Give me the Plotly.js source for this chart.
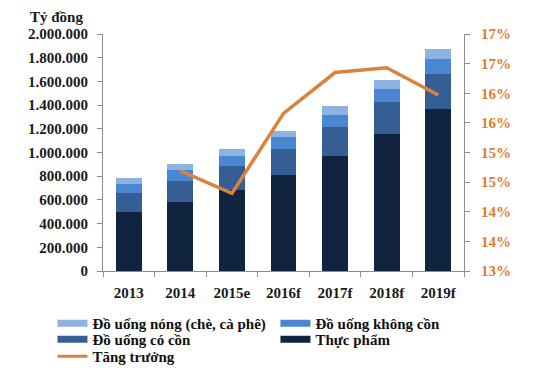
<!DOCTYPE html>
<html>
<head>
<meta charset="utf-8">
<script src="https://cdn.plot.ly/plotly-3.0.1.min.js"></script>
<style>html,body{margin:0;padding:0;background:#fff;}#chart{width:533px;height:373px;}</style>
</head>
<body>
<div id="chart"></div>
<script>
const years = ['2013', '2014', '2015e', '2016f', '2017f', '2018f', '2019f'];
const thucPham = [500000, 585000, 684000, 813000, 973000, 1156000, 1367000];
const doUongCoCon = [158000, 177000, 205000, 219000, 245000, 273000, 298000];
const doUongKhongCon = [76000, 90000, 81000, 99000, 98000, 107000, 124000];
const doUongNong = [48000, 48000, 57000, 53000, 76000, 73000, 82000];
const growthYears = ['2014', '2015e', '2016f', '2017f', '2018f', '2019f'];
const tangTruong = [0.1469, 0.1431, 0.1566, 0.1635, 0.1643, 0.1597];
const rightTickVals = [0.13, 0.135, 0.14, 0.145, 0.15, 0.155, 0.16, 0.165, 0.17];
const rightTickText = ['13%', '14%', '14%', '15%', '15%', '16%', '16%', '17%', '17%'];

const names = {
  nong: 'Đồ uống nóng (chè, cà phê)',
  khong: 'Đồ uống không cồn',
  co: 'Đồ uống có cồn',
  tp: 'Thực phẩm',
  tt: 'Tăng trưởng'
};
const colors = {
  nong: '#8DB3E2',
  khong: '#4A86D2',
  co: '#355E95',
  tp: '#10233F',
  tt: '#D9843E'
};

function barTrace(y, key) {
  return {type: 'bar', x: years, y: y, name: names[key], showlegend: false,
    marker: {color: colors[key], line: {width: 0}}, width: 0.5, hoverinfo: 'skip'};
}
function legendTrace(key, rank, w, leg) {
  return {type: 'scatter', mode: 'lines', x: [null], y: [null], name: names[key],
    line: {color: colors[key], width: w}, legendrank: rank, showlegend: true, legend: leg};
}

const data = [
  barTrace(thucPham, 'tp'),
  barTrace(doUongCoCon, 'co'),
  barTrace(doUongKhongCon, 'khong'),
  barTrace(doUongNong, 'nong'),
  {type: 'scatter', mode: 'lines', x: growthYears, y: tangTruong, yaxis: 'y2',
    name: names.tt, line: {color: colors.tt, width: 3.5}, showlegend: false},
  legendTrace('nong', 1, 7, 'legend'),
  legendTrace('khong', 2, 7, 'legend'),
  legendTrace('co', 3, 7, 'legend2'),
  legendTrace('tp', 4, 7, 'legend2'),
  legendTrace('tt', 5, 3, 'legend3')
];

const font = {family: '"Liberation Serif", "Times New Roman", serif', size: 15, color: '#1a1a1a'};
const legFont = {family: font.family, size: 15, color: '#111111', weight: 'bold'};

function legendAt(y) {
  return {
    orientation: 'h', x: -0.14, xanchor: 'left', y: y, yanchor: 'top',
    traceorder: 'normal',
    entrywidth: 178, entrywidthmode: 'pixels', itemwidth: 30, tracegroupgap: 0,
    font: legFont, bgcolor: 'rgba(0,0,0,0)'
  };
}

const layout = {
  width: 533, height: 373,
  margin: {l: 103, r: 69, t: 34, b: 102, pad: 0, autoexpand: false},
  paper_bgcolor: '#ffffff', plot_bgcolor: '#ffffff',
  separators: ',.',
  barmode: 'stack',
  font: font,
  xaxis: {
    type: 'category', categoryorder: 'array', categoryarray: years,
    showgrid: false, zeroline: false, showline: true, linecolor: '#8c8c8c', linewidth: 1,
    ticks: 'outside', ticklen: 5, tickcolor: '#8c8c8c', tickson: 'boundaries',
    tickfont: {family: font.family, size: 15, color: '#1a1a1a', weight: 'bold'},
    ticklabelstandoff: 8
  },
  yaxis: {
    range: [0, 2000000], dtick: 200000, tick0: 0, tickformat: ',d',
    showgrid: false, zeroline: false, showline: true, linecolor: '#8c8c8c', linewidth: 1,
    ticks: 'outside', ticklen: 5, tickcolor: '#8c8c8c',
    tickfont: {family: font.family, size: 15, color: '#1a1a1a', weight: 'bold'},
    ticklabelstandoff: 6
  },
  yaxis2: {
    overlaying: 'y', side: 'right', range: [0.13, 0.17],
    tickmode: 'array', tickvals: rightTickVals, ticktext: rightTickText,
    showgrid: false, zeroline: false, showline: true, linecolor: '#8c8c8c', linewidth: 1,
    ticks: 'outside', ticklen: 5, tickcolor: '#8c8c8c',
    tickfont: {family: font.family, size: 15, color: '#E07B2E', weight: 'bold'},
    ticklabelstandoff: 8
  },
  legend: legendAt(-0.152),
  legend2: legendAt(-0.219),
  legend3: legendAt(-0.291),
  annotations: [{
    text: 'Tỷ đồng', xref: 'paper', yref: 'paper', x: -0.208, y: 1.072,
    xanchor: 'left', yanchor: 'middle', showarrow: false,
    font: {family: font.family, size: 15, color: '#1a1a1a', weight: 'bold'}
  }]
};

Plotly.newPlot('chart', data, layout, {displayModeBar: false, staticPlot: true});
</script>
</body>
</html>
